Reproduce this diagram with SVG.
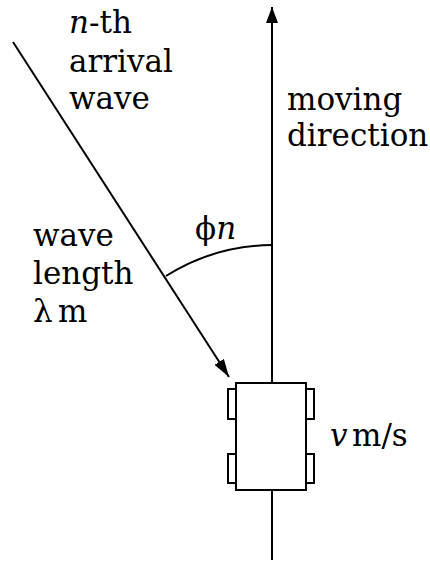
<svg xmlns="http://www.w3.org/2000/svg" width="430" height="563" viewBox="0 0 430 563">
<style>
.t{font-family:"DejaVu Serif","Liberation Serif",serif;font-size:31px;fill:#000}
.i{font-style:italic}
.ln{stroke:#000;stroke-width:2;fill:none}
.box{fill:#fff;stroke:#000;stroke-width:2}
</style>
<defs>
<marker id="ah2" viewBox="0 0 16 12" refX="16" refY="6" markerWidth="16" markerHeight="12" markerUnits="userSpaceOnUse" orient="auto">
<path d="M0,0 L16,6 L0,12 Z" fill="#000"/>
</marker>
<marker id="ah3" viewBox="0 0 18 11" refX="18" refY="5.5" markerWidth="18" markerHeight="11" markerUnits="userSpaceOnUse" orient="auto">
<path d="M0,0 L18,5.5 L0,11 Z" fill="#000"/>
</marker>
</defs>
<rect width="430" height="563" fill="#fff"/>
<g id="connectors">
<line class="ln" x1="272" y1="560" x2="272" y2="7" marker-end="url(#ah2)"/>
<line class="ln" x1="13" y1="42" x2="229" y2="377" marker-end="url(#ah3)"/>
<path class="ln" d="M272,245 A202,202 0 0 0 166,276"/>
</g>
<g id="car">
<rect class="box" x="236" y="383" width="70" height="107"/>
<rect class="box" x="228" y="389" width="8" height="30"/>
<rect class="box" x="228" y="454" width="8" height="29"/>
<rect class="box" x="306" y="389" width="8" height="30"/>
<rect class="box" x="306" y="454" width="8" height="29"/>
</g>
<g id="wave-label">
<text class="t" x="69" y="33"><tspan class="i">n</tspan>-th</text>
<text class="t" x="69" y="72">arrival</text>
<text class="t" x="69" y="109">wave</text>
</g>
<g id="direction-label">
<text class="t" x="287" y="110">moving</text>
<text class="t" x="287" y="146">direction</text>
</g>
<g id="length-label">
<text class="t" x="33" y="246">wave</text>
<text class="t" x="33" y="284">length</text>
<text class="t" x="33" y="322">λ<tspan x="58">m</tspan></text>
</g>
<g id="angle-label">
<text class="t" x="195" y="239">ϕ<tspan class="i">n</tspan></text>
</g>
<g id="speed-label">
<text class="t" x="330" y="446"><tspan class="i">v</tspan><tspan x="352">m/s</tspan></text>
</g>
</svg>
